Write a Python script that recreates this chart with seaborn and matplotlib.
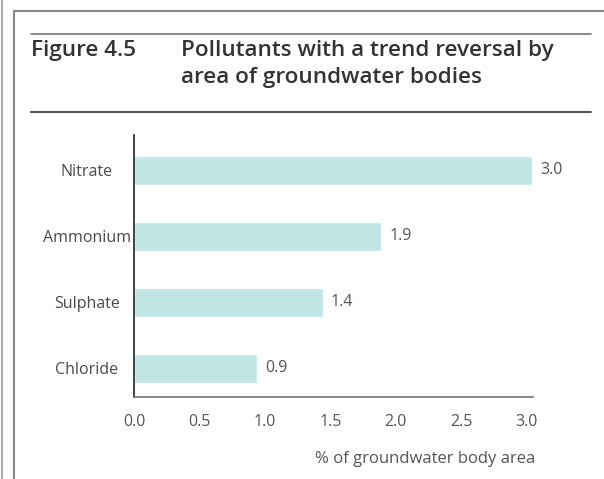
import matplotlib
matplotlib.use("Agg")
import matplotlib.pyplot as plt
import seaborn as sns
import pandas as pd
from matplotlib.lines import Line2D

pollutants = ["Nitrate", "Ammonium", "Sulphate", "Chloride"]
shares = [3.04, 1.89, 1.44, 0.94]
xticks = [0.0, 0.5, 1.0, 1.5, 2.0, 2.5, 3.0]

sns.set_style("white")
plt.rcParams['font.family'] = ['Open Sans', 'DejaVu Sans']

df = pd.DataFrame({"pollutant": pollutants, "share": shares})

fig = plt.figure(figsize=(6.04, 4.79), dpi=100)
ax = fig.add_axes([0.222, 0.171, 0.66, 0.547])

sns.barplot(data=df, x="share", y="pollutant", color="#c1e6e6", saturation=1,
            width=0.44, ax=ax, orient="h")
ax.bar_label(ax.containers[0], labels=[f"{v:.1f}" for v in shares], padding=6,
             fontsize=11.5, color="#555555")

ax.set_xlim(0, 3.046)
ax.set_ylim(3.44, -0.53)
ax.set_xticks(xticks)
ax.set_xticklabels([f"{t:.1f}" for t in xticks], fontsize=11.5, color="#555555")
ax.tick_params(axis="x", direction="out", length=7, width=1, color="#666666", pad=5)
ax.tick_params(axis="y", length=0, labelsize=11.5, labelcolor="#4a4a4a", pad=34)
for lab in ax.get_yticklabels():
    lab.set_horizontalalignment("center")
ax.set_ylabel("")
ax.set_xlabel("")
for s in ["top", "right"]:
    ax.spines[s].set_visible(False)
ax.spines["left"].set_color("#222222")
ax.spines["left"].set_linewidth(1.2)
ax.spines["bottom"].set_color("#777777")
ax.spines["bottom"].set_linewidth(1.2)

fig.text(0.886, 0.033, "% of groundwater body area", ha="right", va="baseline",
         fontsize=12, color="#555555")

# title block
fig.text(0.051, 0.883, "Figure 4.5", fontsize=16.2, fontweight="semibold",
         color="#333333", va="baseline")
fig.text(0.300, 0.883, "Pollutants with a trend reversal by", fontsize=16.2,
         fontweight="semibold", color="#333333", va="baseline")
fig.text(0.300, 0.827, "area of groundwater bodies", fontsize=16.2,
         fontweight="semibold", color="#333333", va="baseline")

# frame lines
fig.add_artist(Line2D([0.004, 0.004], [0, 1], color="#999999", lw=1.2))
fig.add_artist(Line2D([0.023, 0.023], [0, 0.976], color="#888888", lw=1.5))
fig.add_artist(Line2D([0.023, 1], [0.976, 0.976], color="#888888", lw=1.5))
fig.add_artist(Line2D([0.051, 0.979], [0.929, 0.929], color="#777777", lw=1.2))
fig.add_artist(Line2D([0.051, 0.979], [0.766, 0.766], color="#555555", lw=1.5))

fig.savefig("out.png", dpi=100)
